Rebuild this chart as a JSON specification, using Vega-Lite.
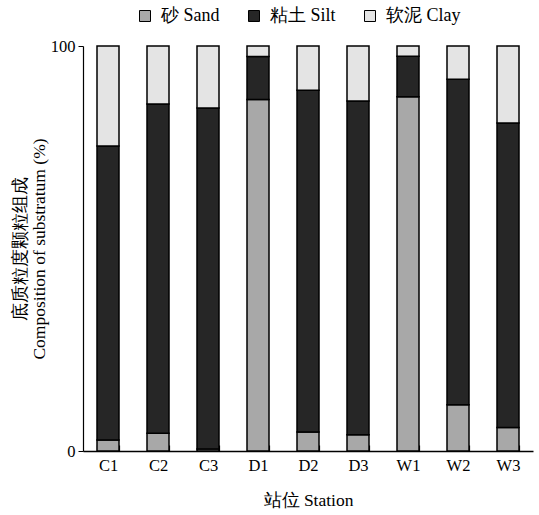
{
  "$schema": "https://vega.github.io/schema/vega-lite/v6.json",
  "width": 450,
  "height": 405,
  "autosize": "none",
  "padding": {"left": 83, "top": 46, "right": 6, "bottom": 64},
  "background": "white",
  "config": {
    "font": "Liberation Serif",
    "view": {"stroke": null},
    "axis": {"labelFont": "Liberation Serif", "titleFont": "Liberation Serif", "labelFontSize": 16.5, "titleFontSize": 17.5, "labelColor": "black", "titleColor": "black", "domainColor": "black", "tickColor": "black", "titleFontWeight": "normal", "grid": false},
    "legend": {"labelFont": "Liberation Serif", "labelFontSize": 18}
  },
  "data": {"values": [
    {"station": "C1", "type": "砂 Sand", "value": 2.7},
    {"station": "C1", "type": "粘土 Silt", "value": 72.6},
    {"station": "C1", "type": "软泥 Clay", "value": 24.7},
    {"station": "C2", "type": "砂 Sand", "value": 4.4},
    {"station": "C2", "type": "粘土 Silt", "value": 81.3},
    {"station": "C2", "type": "软泥 Clay", "value": 14.3},
    {"station": "C3", "type": "砂 Sand", "value": 0.5},
    {"station": "C3", "type": "粘土 Silt", "value": 84.2},
    {"station": "C3", "type": "软泥 Clay", "value": 15.3},
    {"station": "D1", "type": "砂 Sand", "value": 86.8},
    {"station": "D1", "type": "粘土 Silt", "value": 10.6},
    {"station": "D1", "type": "软泥 Clay", "value": 2.6},
    {"station": "D2", "type": "砂 Sand", "value": 4.7},
    {"station": "D2", "type": "粘土 Silt", "value": 84.4},
    {"station": "D2", "type": "软泥 Clay", "value": 10.9},
    {"station": "D3", "type": "砂 Sand", "value": 4.0},
    {"station": "D3", "type": "粘土 Silt", "value": 82.4},
    {"station": "D3", "type": "软泥 Clay", "value": 13.6},
    {"station": "W1", "type": "砂 Sand", "value": 87.5},
    {"station": "W1", "type": "粘土 Silt", "value": 10.0},
    {"station": "W1", "type": "软泥 Clay", "value": 2.5},
    {"station": "W2", "type": "砂 Sand", "value": 11.4},
    {"station": "W2", "type": "粘土 Silt", "value": 80.4},
    {"station": "W2", "type": "软泥 Clay", "value": 8.2},
    {"station": "W3", "type": "砂 Sand", "value": 5.8},
    {"station": "W3", "type": "粘土 Silt", "value": 75.2},
    {"station": "W3", "type": "软泥 Clay", "value": 19.0}
  ]},
  "mark": {"type": "bar", "stroke": "black", "strokeWidth": 1.5},
  "encoding": {
    "x": {
      "field": "station", "type": "nominal", "sort": null,
      "scale": {"paddingInner": 0.56, "paddingOuter": 0.28},
      "axis": {"title": "站位 Station", "labelAngle": 0, "tickBand": "extent", "tickSize": -6, "tickWidth": 1.2, "labelPadding": 12, "titlePadding": 18, "domainWidth": 1.5}
    },
    "y": {
      "field": "value", "type": "quantitative", "stack": "zero",
      "scale": {"domain": [0, 100], "nice": false},
      "axis": {"title": ["底质粒度颗粒组成", "Composition of substratum (%)"], "values": [0, 100], "tickSize": 5, "labelPadding": 3, "titlePadding": 2, "titleLineHeight": 19, "domainWidth": 1.2}
    },
    "fill": {
      "field": "type", "type": "nominal",
      "sort": ["砂 Sand", "粘土 Silt", "软泥 Clay"],
      "scale": {"domain": ["砂 Sand", "粘土 Silt", "软泥 Clay"], "range": ["#a8a8a8", "#262626", "#e4e4e4"]},
      "legend": {"title": null, "orient": "none", "direction": "horizontal", "legendX": 53, "legendY": -39, "symbolType": "square", "symbolSize": 121, "symbolStrokeColor": "black", "symbolStrokeWidth": 1, "labelFont": "Liberation Serif", "labelFontSize": 18, "labelColor": "black", "labelOffset": 7, "columnPadding": 25}
    },
    "order": {"field": "type", "sort": "ascending"}
  }
}
